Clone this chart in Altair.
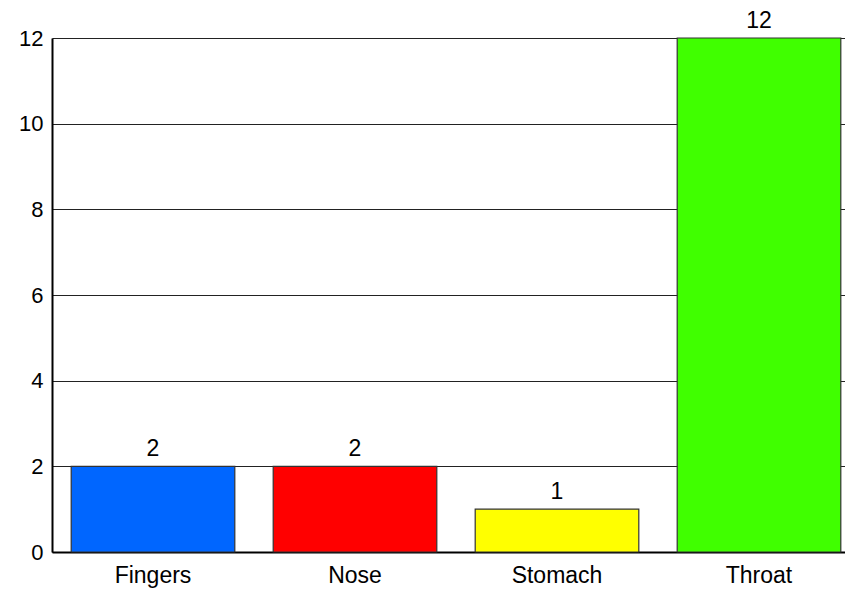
import altair as alt
import pandas as pd

categories = ["Fingers", "Nose", "Stomach", "Throat"]
values = [2, 2, 1, 12]
colors = ["#0066FF", "#FF0000", "#FFFF00", "#40FF00"]

df = pd.DataFrame({"cat": categories, "val": values})

x = alt.X("cat:N", sort=categories, title=None,
          scale=alt.Scale(paddingInner=0.19, paddingOuter=0.095, range=[0, 808]),
          axis=alt.Axis(labelAngle=0, labelFontSize=23, labelColor="black",
                        labelFont="Liberation Sans", ticks=False, domainColor="black",
                        domainWidth=2, labelPadding=12, grid=False))
y = alt.Y("val:Q", title=None,
          scale=alt.Scale(domain=[0, 12], nice=False),
          axis=alt.Axis(values=[0, 2, 4, 6, 8, 10, 12], labelFontSize=22, labelColor="black",
                        labelFont="Liberation Sans", ticks=False, domainColor="black",
                        domainWidth=2, labelPadding=9, grid=True, gridColor="#222222",
                        gridWidth=1, gridOpacity=1))

bars = alt.Chart(df).mark_bar(stroke="#333333", strokeWidth=1.2).encode(
    x=x, y=y,
    color=alt.Color("cat:N", scale=alt.Scale(domain=categories, range=colors), legend=None),
)
labels = alt.Chart(df).mark_text(baseline="alphabetic", dy=-10, fontSize=23,
                                 font="Liberation Sans", color="black").encode(
    x=alt.X("cat:N", sort=categories), y="val:Q", text="val:Q")

chart = (bars + labels).properties(
    width=793, height=514,
    padding={"left": 44, "top": 30, "right": 0, "bottom": 38},
    autosize=alt.AutoSizeParams(type="none"),
).configure_view(stroke=None).configure(background="white")

chart.save("out.html", embed_options={"renderer": "svg", "actions": False})
